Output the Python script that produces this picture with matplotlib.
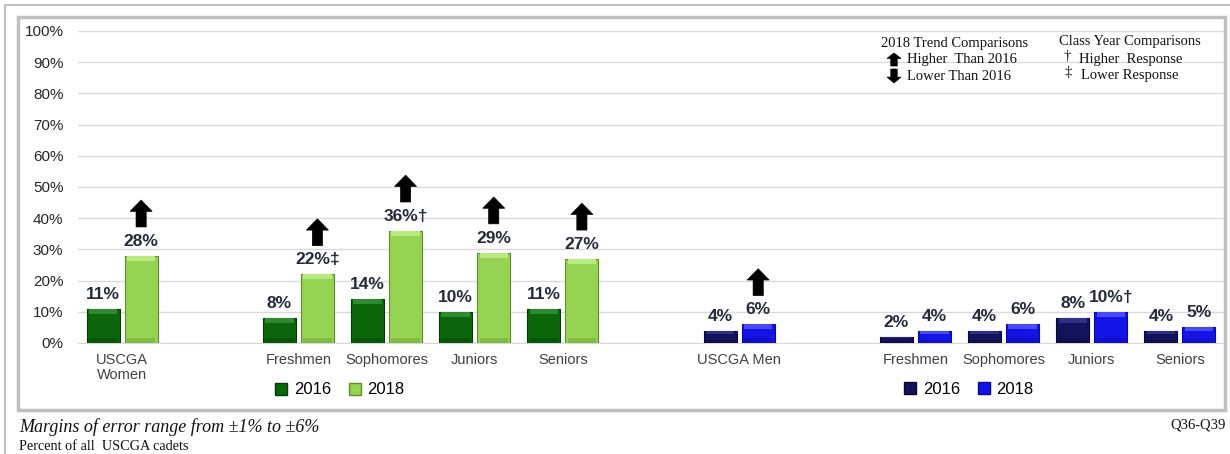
import numpy as np
import matplotlib
matplotlib.use('Agg')
import matplotlib.pyplot as plt
from matplotlib.patches import Polygon, Rectangle, Patch
from matplotlib.lines import Line2D

plt.rcParams['font.family'] = ['Liberation Sans', 'DejaVu Sans']

# data
women_labels = ['USCGA\nWomen', 'Freshmen', 'Sophomores', 'Juniors', 'Seniors']
women_2016 = [11, 8, 14, 10, 11]
women_2018 = [28, 22, 36, 29, 27]
women_marks = ['', '\u2021', '\u2020', '', '']
women_up = [True, True, True, True, True]

men_labels = ['USCGA Men', 'Freshmen', 'Sophomores', 'Juniors', 'Seniors']
men_2016 = [4, 2, 4, 8, 4]
men_2018 = [6, 4, 6, 10, 5]
men_marks = ['', '', '', '\u2020', '']
men_up = [True, False, False, False, False]

years = ['2016', '2018']
y_ticks = [0, 10, 20, 30, 40, 50, 60, 70, 80, 90, 100]

# layout (slot positions on the x axis, gaps between groups)
women_pos = np.array([0, 2, 3, 4, 5])
men_pos = np.array([7, 9, 10, 11, 12])
off = 0.216
bw = 0.375

green = ('#0b650b', '#95d352')
green_edge = ('#053a05', '#5e8f2c')
green_hi = ('#2f8a2f', '#b9ea82')
blue = ('#13135c', '#1414e6')
blue_edge = ('#07072e', '#0a0a90')
blue_hi = ('#2f2f85', '#4a4af2')
label_col = '#262a3a'

W, H = 1230, 454
fig = plt.figure(figsize=(W / 100, H / 100), dpi=100)
ax = fig.add_axes([78 / W, (H - 343) / H, (1224 - 78) / W, 312 / H])


def bevel_bars(x, vals, face, edge, hi):
    ax.bar(x, vals, width=bw, color=face, edgecolor=edge, linewidth=0.8, zorder=3)
    # lighter strip on top and darker strip at bottom for the bevel look
    band = np.minimum(np.array(vals) * 0.25, 1.6)
    ax.bar(x, band, bottom=np.array(vals) - band, width=bw * 0.86,
           color=hi, linewidth=0, zorder=4)
    ax.bar(x, band, width=bw * 0.86, color=edge, alpha=0.35, linewidth=0, zorder=4)


def block_arrow(cx, y0, w, h, up=True, transform=None, zorder=5):
    hw = w / 2
    sw = w * 0.23
    hh = h * 0.42
    if up:
        pts = [(cx - sw, y0), (cx + sw, y0), (cx + sw, y0 + h - hh), (cx + hw, y0 + h - hh),
               (cx, y0 + h), (cx - hw, y0 + h - hh), (cx - sw, y0 + h - hh)]
    else:
        top = y0 + h
        pts = [(cx - sw, top), (cx + sw, top), (cx + sw, top - h + hh), (cx + hw, top - h + hh),
               (cx, top - h), (cx - hw, top - h + hh), (cx - sw, top - h + hh)]
    kw = {} if transform is None else {'transform': transform}
    p = Polygon(pts, closed=True, facecolor='black', edgecolor='black', lw=0.5,
                zorder=zorder, **kw)
    if transform is None:
        ax.add_patch(p)
    else:
        fig.add_artist(p)


def draw_group(pos, v16, v18, marks, up, face, edge, hi):
    bevel_bars(pos - off, v16, face[0], edge[0], hi[0])
    bevel_bars(pos + off, v18, face[1], edge[1], hi[1])
    for x, v in zip(pos - off, v16):
        ax.annotate(f'{v}%', (x, v), xytext=(0, 5), textcoords='offset points',
                    ha='center', va='bottom', fontsize=12.5, fontweight='bold',
                    color=label_col, zorder=6)
    for x, v, m, u in zip(pos + off, v18, marks, up):
        ax.annotate(f'{v}%{m}', (x, v), xytext=(0, 5), textcoords='offset points',
                    ha='center', va='bottom', fontsize=12.5, fontweight='bold',
                    color=label_col, zorder=6)
        if u:
            block_arrow(x, v + 9.2, 0.25, 8.6, up=True)


draw_group(women_pos, women_2016, women_2018, women_marks, women_up, green, green_edge, green_hi)
draw_group(men_pos, men_2016, men_2018, men_marks, men_up, blue, blue_edge, blue_hi)

ax.set_xlim(-0.5, 12.5)
ax.set_ylim(0, 100)
ax.set_yticks(y_ticks)
ax.set_yticklabels([f'{t}%' for t in y_ticks], fontsize=11, color='#262626')
ax.set_xticks(np.concatenate([women_pos, men_pos]))
ax.set_xticklabels(women_labels + men_labels, fontsize=10.5, color='#404040',
                   linespacing=1.15)
ax.tick_params(axis='both', length=0)
ax.tick_params(axis='x', pad=7)
ax.tick_params(axis='y', pad=10.5)
ax.grid(axis='y', color='#d9d9d9', lw=1, zorder=0)
for s in ['top', 'right', 'left']:
    ax.spines[s].set_visible(False)
ax.spines['bottom'].set_color('#d9d9d9')

# legends
g_handles = [Patch(facecolor=green[i], edgecolor=green_edge[i], label=years[i]) for i in range(2)]
b_handles = [Patch(facecolor=blue[i], edgecolor=blue_edge[i], label=years[i]) for i in range(2)]
legkw = dict(ncol=2, frameon=False, fontsize=12, handlelength=0.7, handleheight=0.7,
             handletextpad=0.4, columnspacing=1.1, loc='center')
leg1 = fig.legend(handles=g_handles, bbox_to_anchor=(340 / W, 1 - 390 / H), **legkw)
leg2 = fig.legend(handles=b_handles, bbox_to_anchor=(969 / W, 1 - 389 / H), **legkw)

# frames
fig.add_artist(Line2D([5 / W, 5 / W, 1], [0, 1 - 5 / H, 1 - 5 / H], color='#c0c0c0', lw=1.5))
fig.add_artist(Rectangle((18 / W, 1 - 410 / H), (1225 - 18) / W, (410 - 17) / H,
                         fill=False, edgecolor='#bfbfbf', lw=2.5))

# key in the top right
serif = ['Liberation Serif', 'DejaVu Serif']
tk = dict(family=serif, fontsize=10.5, color='#111111', va='center')
fig.text(955 / W, 1 - 43 / H, '2018 Trend Comparisons', ha='center', **tk)
fig.text(907 / W, 1 - 59 / H, 'Higher  Than 2016', ha='left', **tk)
fig.text(907 / W, 1 - 77 / H, 'Lower Than 2016', ha='left', **tk)
block_arrow(894 / W, 1 - 66 / H, 14 / W, 13 / H, up=True, transform=fig.transFigure)
block_arrow(894 / W, 1 - 83 / H, 14 / W, 14 / H, up=False, transform=fig.transFigure)
fig.text(1130 / W, 1 - 42 / H, 'Class Year Comparisons', ha='center', **tk)
fig.text(1067 / W, 1 - 56 / H, '\u2020', ha='center', **tk)
fig.text(1079 / W, 1 - 59 / H, 'Higher  Response', ha='left', **tk)
fig.text(1068 / W, 1 - 73 / H, '\u2021', ha='center', **tk)
fig.text(1081 / W, 1 - 75 / H, 'Lower Response', ha='left', **tk)

# footnotes
fig.text(19 / W, 1 - 427 / H, 'Margins of error range from \u00b11% to \u00b16%', family=serif,
         style='italic', fontsize=13, va='center', ha='left', color='#111111')
fig.text(19 / W, 1 - 446 / H, 'Percent of all  USCGA cadets', family=serif,
         fontsize=10.3, va='center', ha='left', color='#111111')
fig.text(1226 / W, 1 - 425 / H, 'Q36-Q39', family=serif, fontsize=10.5,
         va='center', ha='right', color='#111111')

fig.savefig('out.png', dpi=100, facecolor='white')
